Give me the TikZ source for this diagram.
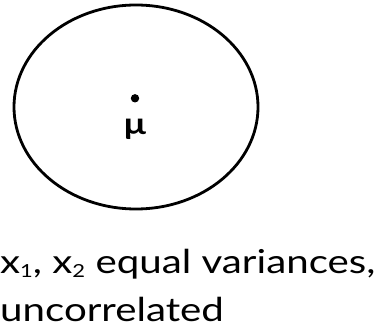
\documentclass[tikz,border=0pt]{standalone}
\usepackage{fontspec}
\setmainfont[FakeStretch=1.22]{Lato}
\newcommand{\mysub}[1]{\raisebox{-4pt}{\fontsize{18}{18}\selectfont #1}}
\tikzset{
  lbl/.style={anchor=base west, inner sep=0pt, font=\fontsize{33}{36}\selectfont},
  ring/.style={draw=black, line width=2.8pt},
}
\begin{document}
\begin{tikzpicture}[x=1pt,y=1pt]
\useasboundingbox (0,0) rectangle (374,329);
\draw[ring] (136,222) ellipse [x radius=122, y radius=102];
\fill (135,230.7) circle [radius=4.2];
\node[font=\bfseries\fontsize{30}{32}\selectfont, inner sep=0pt, anchor=base] (mu) at (135,194) {μ};
\node[lbl] (l1) at (0,56) {x\mysub{1}, x\mysub{2} equal variances,};
\node[lbl] (l2) at (0,8) {uncorrelated};
\end{tikzpicture}
\end{document}
